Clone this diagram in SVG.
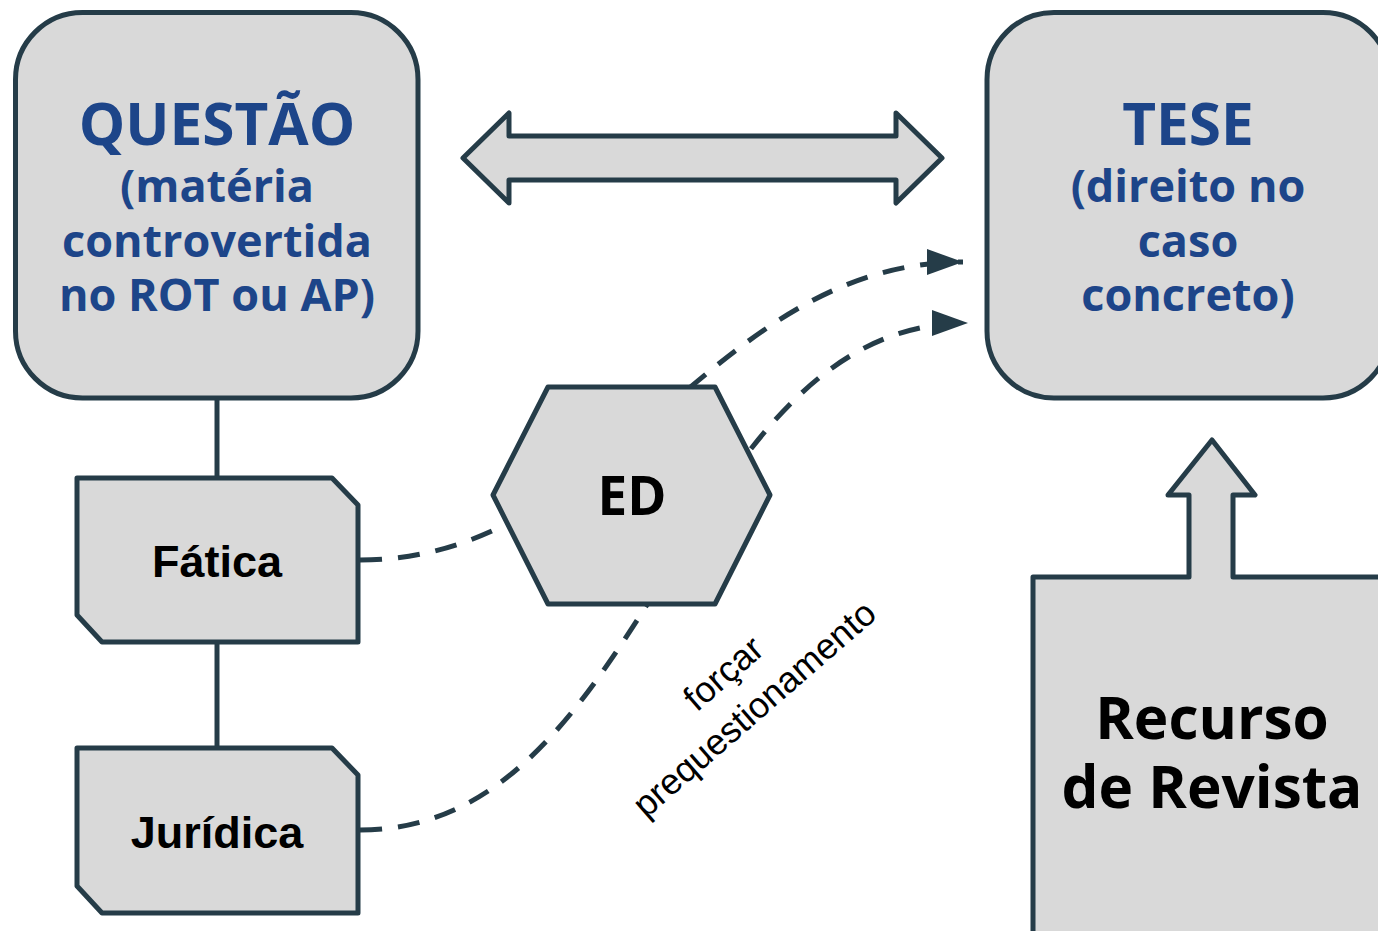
<svg xmlns="http://www.w3.org/2000/svg" width="1378" height="931" viewBox="0 0 1378 931">
  <style>
    .shape { fill: #d9d9d9; stroke: #253c48; stroke-width: 5; stroke-linejoin: round; }
    .line { fill: none; stroke: #253c48; stroke-width: 5; }
    .dash { fill: none; stroke: #253c48; stroke-width: 5; stroke-dasharray: 22 16; }
    .blue { font-family: "Open Sans", "Noto Sans", sans-serif; font-weight: 700; fill: #1d4589; text-anchor: middle; }
    .dark { font-family: "Open Sans", "Noto Sans", sans-serif; font-weight: 700; fill: #000; text-anchor: middle; }
    .arial { font-family: "Liberation Sans", Arial, sans-serif; font-weight: 700; fill: #000; text-anchor: middle; }
    .lbl { font-family: "Liberation Sans", Arial, sans-serif; fill: #000; text-anchor: middle; font-size: 36px; }
  </style>
  <defs>
    <marker id="arrow" markerUnits="userSpaceOnUse" markerWidth="40" markerHeight="30" refX="36" refY="13" orient="auto">
      <path d="M0,0 L36,13 L0,26 Z" fill="#253c48"/>
    </marker>
  </defs>

  <g id="connectors">
    <line class="line" x1="217" y1="398" x2="217" y2="478"/>
    <line class="line" x1="217" y1="642" x2="217" y2="748"/>
    <path class="dash" d="M360,560 C615,560 710,262 963,262" marker-end="url(#arrow)"/>
    <path class="dash" d="M360,830 C651,830 679,323 968,323" marker-end="url(#arrow)"/>
  </g>

  <g id="questao">
    <rect class="shape" x="15.5" y="12.5" width="402.5" height="385.5" rx="67" ry="67"/>
    <text class="blue" x="217" y="145" font-size="58.5">QUESTÃO</text>
    <text class="blue" x="217" y="202" font-size="45">(matéria</text>
    <text class="blue" x="217" y="257" font-size="45">controvertida</text>
    <text class="blue" x="217" y="311" font-size="45">no ROT ou AP)</text>
  </g>

  <g id="double-arrow">
    <path class="shape" d="M463,158 L509,113 L509,136 L896,136 L896,113 L942,158 L896,203 L896,180 L509,180 L509,203 Z"/>
  </g>

  <g id="tese">
    <rect class="shape" x="987" y="12.5" width="403" height="385.5" rx="67" ry="67"/>
    <text class="blue" x="1188" y="145" font-size="58.5">TESE</text>
    <text class="blue" x="1188" y="202" font-size="45">(direito no</text>
    <text class="blue" x="1188" y="257" font-size="45">caso</text>
    <text class="blue" x="1188" y="311" font-size="45">concreto)</text>
  </g>

  <g id="fatica">
    <path class="shape" d="M77,478 L332,478 L358,505 L358,642 L102,642 L77,615 Z"/>
    <text class="arial" x="217" y="577" font-size="45">Fática</text>
  </g>

  <g id="juridica">
    <path class="shape" d="M77,748 L332,748 L358,775 L358,913 L102,913 L77,886 Z"/>
    <text class="arial" x="217" y="848" font-size="45">Jurídica</text>
  </g>

  <g id="ed">
    <path class="shape" d="M548,387 L715,387 L770,495 L715,604 L548,604 L493,495 Z"/>
    <text class="dark" x="632" y="515" font-size="53">ED</text>
  </g>

  <g id="label">
    <g transform="translate(738,690) rotate(-41)">
      <text class="lbl" x="0" y="-10">forçar</text>
      <text class="lbl" x="0" y="37">prequestionamento</text>
    </g>
  </g>

  <g id="recurso">
    <path class="shape" d="M1033,940 L1033,577 L1189,577 L1189,495 L1168,495 L1212,440 L1255,495 L1233,495 L1233,577 L1391,577 L1391,940 Z"/>
    <text class="dark" x="1212" y="739" font-size="58.5">Recurso</text>
    <text class="dark" x="1212" y="808" font-size="58.5">de Revista</text>
  </g>
</svg>
